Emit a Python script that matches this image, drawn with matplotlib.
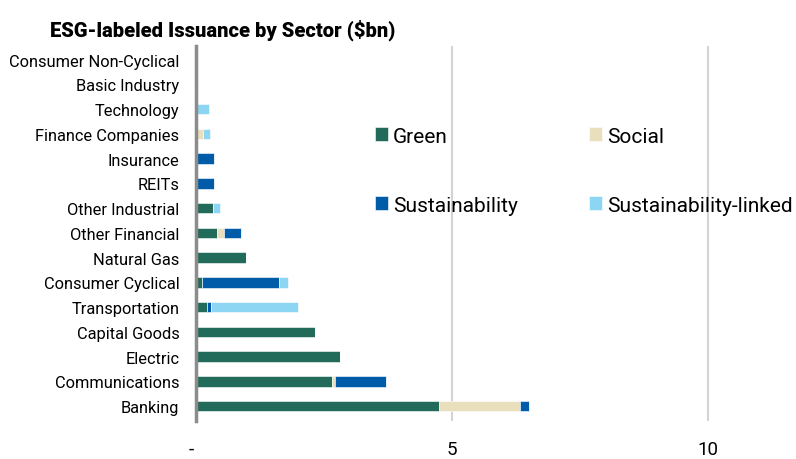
import matplotlib.pyplot as plt
import numpy as np

plt.rcParams['font.family'] = ['Roboto', 'DejaVu Sans']

# sectors, bottom to top
sectors = ['Banking', 'Communications', 'Electric', 'Capital Goods', 'Transportation',
           'Consumer Cyclical', 'Natural Gas', 'Other Financial', 'Other Industrial',
           'REITs', 'Insurance', 'Finance Companies', 'Technology', 'Basic Industry',
           'Consumer Non-Cyclical']
green = [4.75, 2.66, 2.81, 2.32, 0.22, 0.12, 0.98, 0.42, 0.33, 0.0, 0.0, 0.0, 0.0, 0.03, 0.02]
social = [1.57, 0.06, 0.0, 0.0, 0.0, 0.0, 0.0, 0.12, 0.0, 0.0, 0.0, 0.14, 0.0, 0.0, 0.0]
sustainability = [0.19, 0.99, 0.0, 0.0, 0.07, 1.50, 0.0, 0.33, 0.0, 0.36, 0.35, 0.0, 0.0, 0.0, 0.0]
sus_linked = [0.0, 0.0, 0.0, 0.0, 1.70, 0.18, 0.0, 0.0, 0.14, 0.0, 0.0, 0.13, 0.25, 0.0, 0.0]

series = [('Green', green, '#226a5a'),
          ('Social', social, '#e9dfbd'),
          ('Sustainability', sustainability, '#005ca9'),
          ('Sustainability-linked', sus_linked, '#8dd6f3')]

fig = plt.figure(figsize=(7.96, 4.6), dpi=100)
ax = fig.add_axes([0.2462, 0.0826, 0.7463, 0.8152])

y = np.arange(len(sectors))
left = np.zeros(len(sectors))
bars = {}
for name, vals, col in series:
    vals = np.array(vals)
    bars[name] = ax.barh(y, vals, left=left, height=0.42, color=col, label=name,
                         edgecolor='white', linewidth=0.4)
    left += vals

ax.set_xlim(0, 11.6)
ax.set_ylim(-0.6, 14.55)
ax.set_yticks(y)
ax.set_yticklabels(sectors, fontsize=11.8)
ax.set_xticks([0, 5, 10])
ax.set_xticklabels(['-  ', '5', '10'], fontsize=13.5)
ax.tick_params(axis='both', length=0)
ax.tick_params(axis='x', pad=14)
ax.tick_params(axis='y', pad=12)

for s in ['top', 'right', 'bottom']:
    ax.spines[s].set_visible(False)
ax.spines['left'].set_color('#8c8c8c')
ax.spines['left'].set_linewidth(2.5)
ax.set_axisbelow(True)
ax.xaxis.grid(True, color='#d4d4d4', linewidth=1.5)

# legend rows: Green/Social, Sustainability/Sustainability-linked
order = ['Green', 'Sustainability', 'Social', 'Sustainability-linked']
ax.legend([bars[k] for k in order], order, ncol=2, loc='upper left',
          bbox_to_anchor=(0.301, 0.785), frameon=False, borderpad=0, borderaxespad=0,
          fontsize=15, handlelength=0.63, handleheight=0.63, handletextpad=0.25,
          columnspacing=3.4, labelspacing=2.4)

fig.text(0.28, 0.9217, 'ESG-labeled Issuance by Sector ($bn)', ha='center', va='baseline',
         fontsize=14.5, fontweight='heavy')

fig.savefig('out.png', dpi=100)
